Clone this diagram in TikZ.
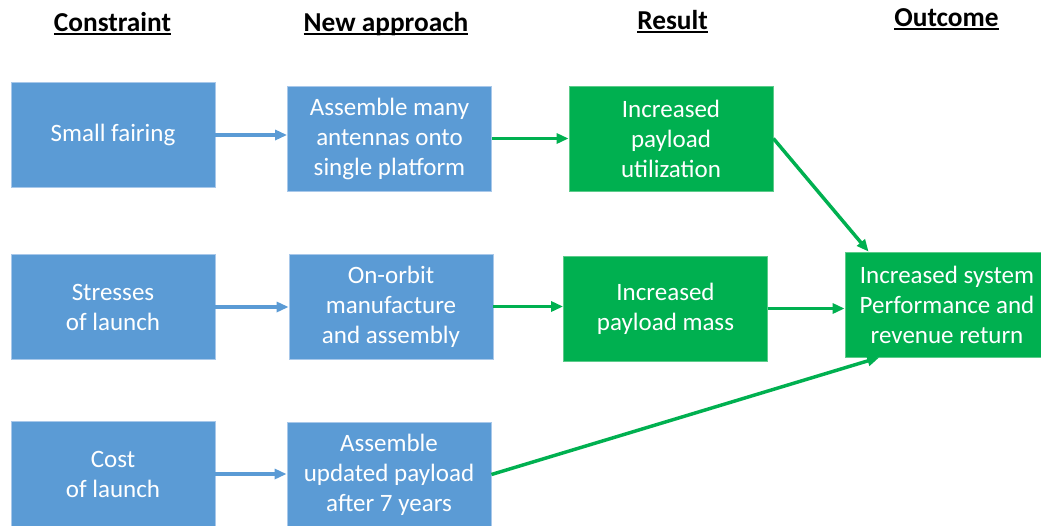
\documentclass[tikz,border=0pt]{standalone}
\usepackage{fontspec}
\setmainfont{Carlito}
\usepackage{tikz}
\usetikzlibrary{arrows.meta, calc, positioning}
\definecolor{boxBlue}{HTML}{5B9BD5}
\definecolor{edgeBlue}{HTML}{A8C8EA}
\definecolor{boxGreen}{HTML}{00B050}
\definecolor{edgeGreen}{HTML}{5CCB8A}
\newcommand{\headline}[1]{\setbox0=\hbox{#1}\rlap{\rule[-3.2pt]{\wd0}{1.5pt}}\box0}

\begin{document}
\begin{tikzpicture}[x=0.75pt, y=-0.75pt, >={Triangle[length=9pt,width=7.5pt]},
    cell/.style={inner sep=0pt, minimum width=153pt, minimum height=78.75pt, align=center, text=white, font=\fontsize{18.75}{22.5}\selectfont},
    blueBox/.style={cell, fill=boxBlue, draw=edgeBlue, line width=0.6pt},
    greenBox/.style={cell, fill=boxGreen, draw=edgeGreen, line width=0.6pt},
    colHead/.style={anchor=base, font=\fontsize{20.5}{24}\selectfont\bfseries},
    blueArrow/.style={->, boxBlue, line width=2.6pt},
    greenArrow/.style={->, boxGreen, line width=2.6pt}]
    \useasboundingbox (0,0) rectangle (1041,525);
    \clip (0,0) rectangle (1041,525);

    % Headings
    \node[colHead] (hConstraint) at (112.5,31) {\headline{Constraint}};
    \node[colHead] (hApproach) at (386,31) {\headline{New approach}};
    \node[colHead] (hResult) at (672.5,29) {\headline{Result}};
    \node[colHead] (hOutcome) at (946.5,26) {\headline{Outcome}};

    % Constraints
    \node[blueBox] (fairing) at (113,135) {Small fairing};
    \node[blueBox] (stress) at (113,307) {Stresses\\of launch};
    \node[blueBox] (cost) at (113,474) {Cost\\of launch};

    % New approaches
    \node[blueBox] (assemble) at (389.5,138.5) {Assemble many\\antennas onto\\single platform};
    \node[blueBox] (orbit) at (391,306.5) {On-orbit\\manufacture\\and assembly};
    \node[blueBox] (update) at (389,474.5) {Assemble\\updated payload\\after 7 years};

    % Results
    \node[greenBox] (utilization) at (671,138.5) {Increased\\payload\\utilization};
    \node[greenBox] (mass) at (665.5,308.5) {Increased\\payload mass};

    % Outcome
    \node[greenBox] (outcome) at (947,304.5) {Increased system\\Performance and\\revenue return};

    % Arrows
    \draw[blueArrow] (fairing.east) -- (fairing.east -| assemble.west);
    \draw[blueArrow] (stress.east) -- (stress.east -| orbit.west);
    \draw[blueArrow] (cost.east) -- (cost.east -| update.west);
    \draw[greenArrow] (assemble.east) -- (assemble.east -| utilization.west);
    \draw[greenArrow] (orbit.east) -- (orbit.east -| mass.west);
    \draw[greenArrow] (mass.east) -- (mass.east -| outcome.west);
    \draw[greenArrow] (utilization.east) -- (outcome.146);
    \draw[greenArrow] (update.east) -- (outcome.218);
\end{tikzpicture}
\end{document}
